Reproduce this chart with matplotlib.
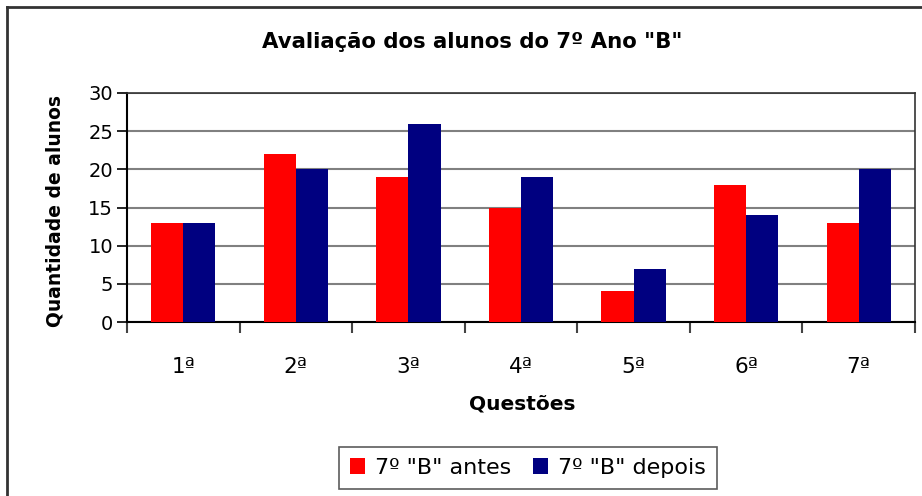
import matplotlib
matplotlib.use("Agg")
import matplotlib.pyplot as plt
from matplotlib.lines import Line2D
import numpy as np

plt.rcParams["font.family"] = ["DejaVu Sans"]

questoes = ["1ª", "2ª", "3ª", "4ª", "5ª", "6ª", "7ª"]
antes = [13, 22, 19, 15, 4, 18, 13]
depois = [13, 20, 26, 19, 7, 14, 20]

W, H = 922, 496
fig = plt.figure(figsize=(W / 100, H / 100), dpi=100, facecolor="white")

# outer chart frame (cut by the image on right/bottom)
fig.add_artist(Line2D([7 / W, 1.0], [1 - 7 / H, 1 - 7 / H], transform=fig.transFigure, color="#333333", lw=2))
fig.add_artist(Line2D([7 / W, 7 / W], [0.0, 1 - 7 / H], transform=fig.transFigure, color="#333333", lw=2))

ax = fig.add_axes([127 / W, 1 - 322 / H, (915 - 127) / W, (322 - 93) / H])

x = np.arange(len(questoes))
bw = 1 / 3.5
ax.bar(x - bw / 2, antes, bw, color="#FF0000", label='7º "B" antes', zorder=3)
ax.bar(x + bw / 2, depois, bw, color="#000080", label='7º "B" depois', zorder=3)

ax.set_xlim(-0.5, len(questoes) - 0.5)
ax.set_ylim(0, 30)
ax.set_yticks(range(0, 31, 5))
ax.yaxis.grid(True, color="#808080", lw=1.5, zorder=0)
ax.set_xticks(x)
ax.set_xticklabels(questoes, fontsize=15.5)
ax.set_xticks(np.arange(-0.5, len(questoes)), minor=True)
ax.tick_params(axis="x", which="major", length=0, pad=25)
ax.tick_params(axis="x", which="minor", length=8, width=1.5, color="#444444")
ax.tick_params(axis="y", length=7, width=1.2, labelsize=14, pad=3)

for s in ["left", "bottom"]:
    ax.spines[s].set_color("black")
    ax.spines[s].set_linewidth(1.5)
for s in ["top", "right"]:
    ax.spines[s].set_color("#333333")
    ax.spines[s].set_linewidth(1.2)

fig.text(472 / W, 1 - 42 / H, 'Avaliação dos alunos do 7º Ano "B"', fontsize=15.3, fontweight="bold",
         ha="center", va="center")
fig.text(55 / W, 1 - 211 / H, "Quantidade de alunos", fontsize=13.5, fontweight="bold",
         rotation=90, ha="center", va="center")
fig.text(522 / W, 1 - 404 / H, "Questões", fontsize=14.5, fontweight="bold", ha="center", va="center")

leg = ax.legend(loc="center", bbox_to_anchor=(528 / W, 1 - 468 / H), bbox_transform=fig.transFigure,
                ncol=2, fontsize=16, frameon=True, fancybox=False, edgecolor="#333333",
                handlelength=0.7, handleheight=0.7, handletextpad=0.45, columnspacing=0.95,
                borderpad=0.5, borderaxespad=0)
leg.get_frame().set_linewidth(1.2)

fig.savefig("out.png", dpi=100)
